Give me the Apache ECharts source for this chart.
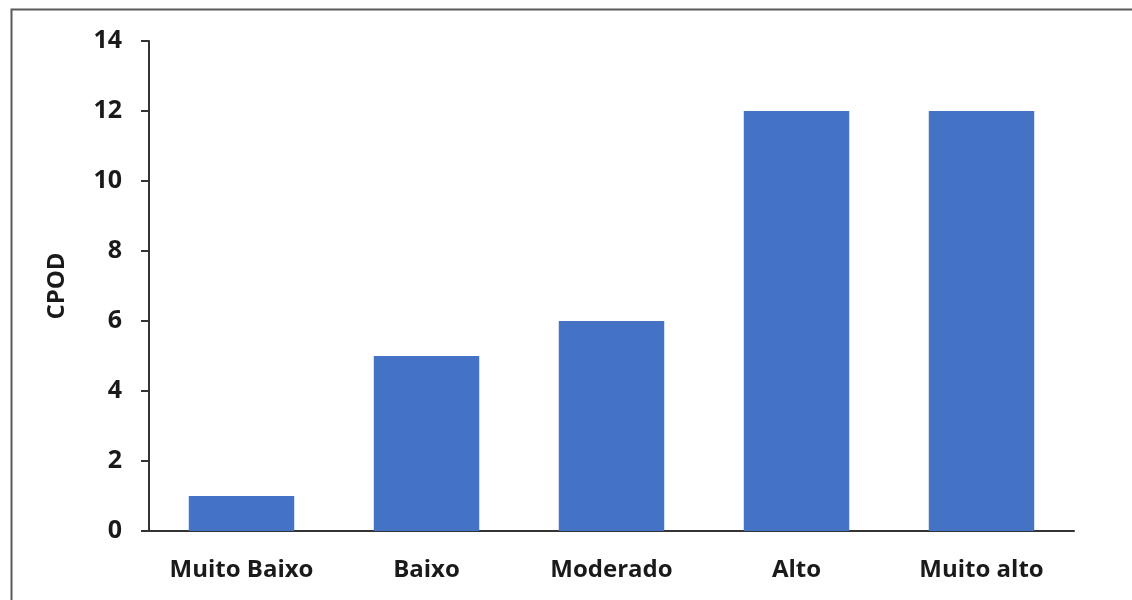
<!DOCTYPE html>
<html><head><meta charset="utf-8">
<script src="https://cdn.jsdelivr.net/npm/echarts@6/dist/echarts.min.js"></script>
<style>html,body{margin:0;padding:0;background:#fff}#c{width:1132px;height:600px}</style>
</head><body><div id="c"></div>
<script>
const categories = ['Muito Baixo', 'Baixo', 'Moderado', 'Alto', 'Muito alto'];
const values = [1, 5, 6, 12, 12];
const yTicks = { min: 0, max: 14, interval: 2 };
const yName = 'CPOD';

const chart = echarts.init(document.getElementById('c'), null, { renderer: 'canvas' });
const font = '"Open Sans"';
chart.setOption({
  animation: false,
  backgroundColor: '#fff',
  graphic: [{
    type: 'rect', left: 9, top: 7, shape: { width: 1300, height: 800 },
    style: { fill: 'none', stroke: '#5a5a5a', lineWidth: 2 }, silent: true, z: -1
  }],
  grid: { left: 149, right: 58, top: 41, bottom: 69, containLabel: false },
  xAxis: {
    type: 'category', data: categories,
    axisLine: { lineStyle: { color: '#333', width: 2 } },
    axisTick: { show: false },
    axisLabel: { interval: 0, hideOverlap: false, color: '#1a1a1a', fontFamily: font, fontWeight: 'bold', fontSize: 24, margin: 27 }
  },
  yAxis: {
    type: 'value', min: yTicks.min, max: yTicks.max, interval: yTicks.interval,
    name: yName, nameLocation: 'middle', nameGap: 80, nameRotate: 90,
    nameTextStyle: { color: '#1a1a1a', fontFamily: font, fontWeight: 'bold', fontSize: 24 },
    axisLine: { show: true, lineStyle: { color: '#333', width: 2 } },
    axisTick: { show: true, length: 8, lineStyle: { color: '#333', width: 2 } },
    splitLine: { show: false },
    axisLabel: { color: '#1a1a1a', fontFamily: font, fontWeight: 'bold', fontSize: 25, margin: 27 }
  },
  series: [{
    type: 'bar', data: values, barWidth: '57%',
    itemStyle: { color: '#4472C4' }
  }]
});
</script></body></html>
